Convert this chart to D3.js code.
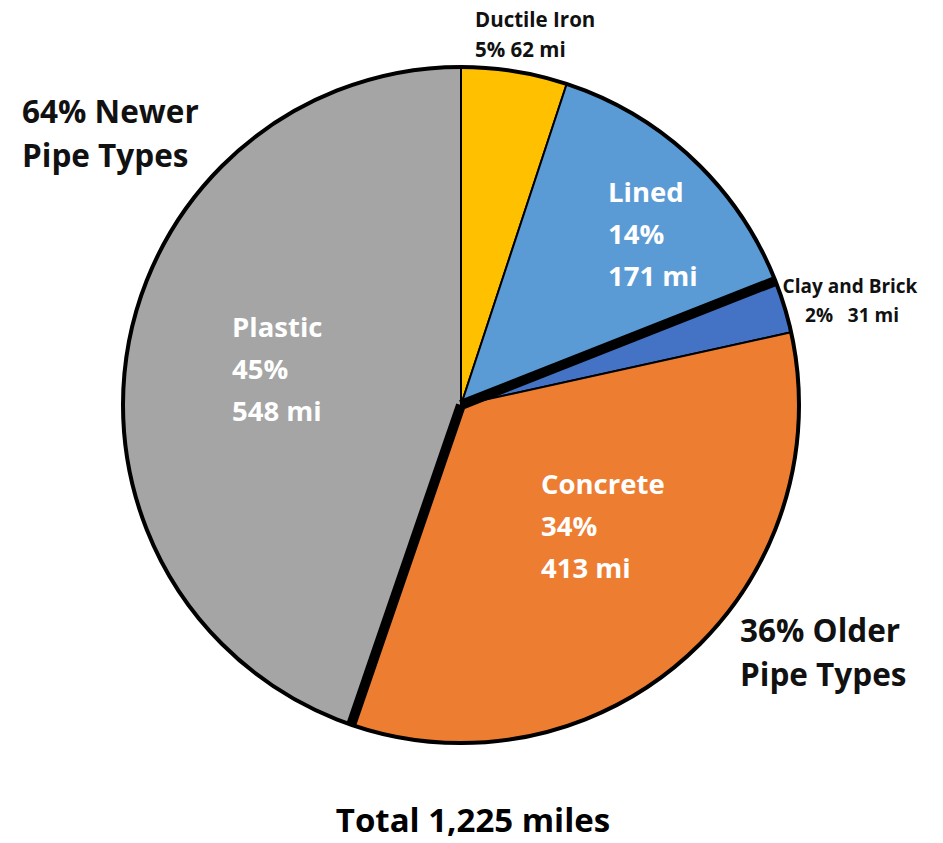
<!DOCTYPE html>
<html>
<head>
<meta charset="utf-8">
<script src="https://cdn.jsdelivr.net/npm/d3@7"></script>
<style>
  html, body { margin: 0; padding: 0; background: #ffffff; }
  svg text { font-family: "Open Sans", "Lato", sans-serif; font-weight: 700; }
</style>
</head>
<body>
<svg id="chart" width="943" height="843"></svg>
<script>
// Sewer pipe inventory by material, miles of pipe (clockwise from 12 o'clock)
const categories = ["Ductile Iron", "Lined", "Clay and Brick", "Concrete", "Plastic"];
const miles = [62, 171, 31, 413, 548];
const percents = ["5%", "14%", "2%", "34%", "45%"];
const colors = ["#FFC000", "#5B9BD5", "#4472C4", "#ED7D31", "#A5A5A5"];
// Newer vs older pipe groups; the heavy dividers sit at the group boundaries
const groupLabels = [["64% Newer", "Pipe Types"], ["36% Older", "Pipe Types"]];
const totalLabel = "Total 1,225 miles";

const svg = d3.select("#chart");
const cx = 461, cy = 405, r = 338;

const data = categories.map((c, i) => ({ name: c, value: miles[i], pct: percents[i], color: colors[i] }));

const pie = d3.pie().value(d => d.value).sort(null);
const arcs = pie(data);
const arc = d3.arc().innerRadius(0).outerRadius(r);

const g = svg.append("g").attr("transform", `translate(${cx},${cy})`);

g.selectAll("path.slice")
  .data(arcs)
  .join("path")
  .attr("class", "slice")
  .attr("d", arc)
  .attr("fill", d => d.data.color)
  .attr("stroke", "#000")
  .attr("stroke-width", 2)
  .attr("stroke-linejoin", "round");

// outer rim
g.append("circle").attr("r", r).attr("fill", "none").attr("stroke", "#000").attr("stroke-width", 4);

// heavy dividers between the newer and older groups
const dividerAngles = [arcs[1].endAngle, arcs[3].endAngle];
g.selectAll("line.divider")
  .data(dividerAngles)
  .join("line")
  .attr("class", "divider")
  .attr("x1", 0).attr("y1", 0)
  .attr("x2", a => r * Math.sin(a))
  .attr("y2", a => -r * Math.cos(a))
  .attr("stroke", "#000")
  .attr("stroke-width", 10)
  .attr("stroke-linecap", "butt");

// in-slice labels (white, three lines)
const inside = [
  { i: 1, x: 608, y: 202 },
  { i: 3, x: 541, y: 494 },
  { i: 4, x: 232, y: 337 }
];
inside.forEach(p => {
  const d = data[p.i];
  const t = svg.append("text").attr("x", p.x).attr("y", p.y)
    .attr("fill", "#ffffff").attr("font-size", 27.5);
  [d.name, d.pct, d.value + " mi"].forEach((s, k) => {
    t.append("tspan").attr("x", p.x).attr("dy", k === 0 ? 0 : 42).text(s);
  });
});

// outside labels for the narrow slices
const ductile = data[0];
const tD = svg.append("text").attr("x", 475).attr("y", 27).attr("fill", "#111").attr("font-size", 20.5);
tD.append("tspan").attr("x", 475).attr("dy", 0).text(ductile.name);
tD.append("tspan").attr("x", 475).attr("dy", 30).text(`${ductile.pct} ${ductile.value} mi`);

const clay = data[2];
const tC = svg.append("text").attr("x", 850).attr("y", 293).attr("fill", "#111")
  .attr("font-size", 19).attr("text-anchor", "middle");
tC.append("tspan").attr("x", 850).attr("dy", 0).text(clay.name);
tC.append("tspan").attr("x", 852).attr("dy", 29).text(`${clay.pct}\u00a0\u00a0\u00a0${clay.value} mi`);

// group labels
const groupPos = [{ x: 22, y: 123 }, { x: 740, y: 642 }];
groupLabels.forEach((lines, gi) => {
  const t = svg.append("text").attr("x", groupPos[gi].x).attr("y", groupPos[gi].y)
    .attr("fill", "#111").attr("font-size", 31.5);
  lines.forEach((s, k) => t.append("tspan").attr("x", groupPos[gi].x).attr("dy", k === 0 ? 0 : 44).text(s));
});

// total
svg.append("text").attr("x", 473).attr("y", 832).attr("text-anchor", "middle")
  .attr("fill", "#000").attr("font-size", 33).text(totalLabel);
</script>
</body>
</html>
